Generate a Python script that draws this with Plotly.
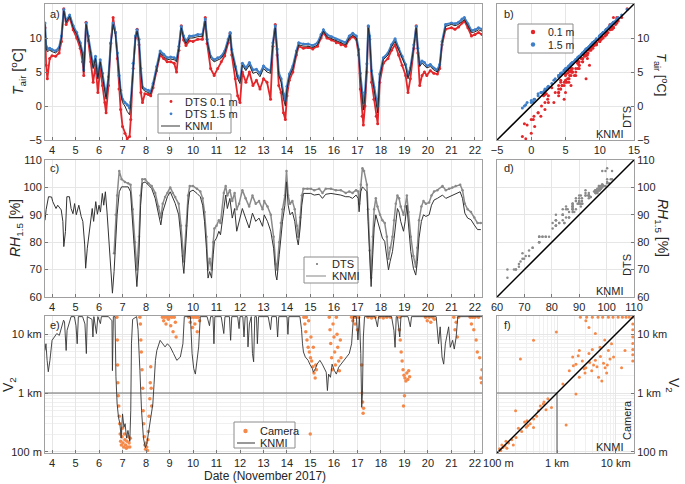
import math
import plotly.graph_objects as go

# ---------------- Panel a / b : air temperature ----------------
t_days = [3.70, 3.75, 3.80, 3.90, 4.00, 4.15, 4.30, 4.40, 4.50, 4.60, 4.75, 4.90, 5.05, 5.20, 5.30, 5.35,
          5.45, 5.55, 5.65, 5.75, 5.85, 5.95, 6.05, 6.15, 6.25, 6.30, 6.40, 6.50, 6.60, 6.70, 6.78, 6.85,
          6.92, 7.00, 7.10, 7.20, 7.30, 7.35, 7.45, 7.55, 7.62, 7.70, 7.78, 7.85, 7.95, 8.10, 8.20, 8.30,
          8.45, 8.60, 8.75, 8.90, 9.05, 9.20, 9.30, 9.40, 9.50, 9.60, 9.70, 9.85, 10.00, 10.20, 10.40, 10.52,
          10.60, 10.75, 10.90, 11.05, 11.20, 11.35, 11.50, 11.58, 11.65, 11.80, 11.90, 12.00, 12.10, 12.25,
          12.40, 12.55, 12.70, 12.85, 13.00, 13.15, 13.30, 13.40, 13.50, 13.58, 13.65, 13.75, 13.85, 13.93,
          14.00, 14.10, 14.25, 14.40, 14.50, 14.70, 14.90, 15.10, 15.30, 15.45, 15.55, 15.70, 15.90, 16.10,
          16.30, 16.50, 16.65, 16.80, 16.95, 17.05, 17.12, 17.20, 17.25, 17.32, 17.40, 17.46, 17.52, 17.60,
          17.70, 17.80, 17.86, 17.95, 18.10, 18.30, 18.45, 18.60, 18.75, 18.90, 19.05, 19.15, 19.25, 19.40,
          19.50, 19.57, 19.65, 19.75, 19.85, 19.95, 20.10, 20.25, 20.40, 20.50, 20.60, 20.75, 21.00, 21.15,
          21.30, 21.45, 21.55, 21.70, 21.85, 22.00, 22.15, 22.30]
t_knmi = [12.0, 8.5, 8.0, 8.2, 8.0, 7.8, 8.3, 10.0, 14.0, 12.3, 13.2, 11.5, 10.5, 9.0, 7.5, 5.0,
          12.0, 10.0, 7.5, 5.5, 7.0, 4.0, 6.5, 4.5, 2.0, 1.0, 4.0, 9.0, 12.0, 10.5, 7.5, 4.0,
          2.0, 0.5, 0.0, -0.8, -1.3, 0.3, 6.0, 10.0, 11.0, 9.5, 5.0, 2.5, 2.2, 2.0, 1.8, 3.0,
          5.5, 7.8, 7.3, 6.8, 6.9, 6.8, 6.5, 8.5, 11.5, 10.0, 9.2, 10.0, 10.0, 10.2, 10.2, 12.5,
          9.5, 7.0, 6.5, 6.8, 7.0, 7.8, 9.5, 10.5, 8.0, 5.5, 4.0, 3.3, 6.0, 5.2,
          6.0, 4.8, 5.0, 4.3, 5.5, 5.0, 4.8, 9.0, 11.5, 8.0, 4.5, 3.5, 1.0, 0.0,
          2.5, 4.3, 5.5, 7.8, 9.0, 8.8, 8.8, 8.6, 9.0, 10.2, 11.0, 10.2, 9.9, 9.5,
          9.2, 9.0, 10.0, 10.4, 10.0, 8.0, 4.3, 1.4, -0.6, 1.5, 5.8, 11.5, 10.0, 4.8,
          2.4, 0.4, -1.0, 4.3, 6.8, 7.5, 8.7, 9.5, 8.2, 7.0, 5.8, 4.0, 5.3, 8.7,
          11.5, 8.2, 5.8, 6.3, 6.0, 5.6, 5.8, 5.3, 5.0, 5.8, 9.2, 11.7, 12.0, 11.8,
          12.0, 12.5, 12.7, 11.8, 10.8, 10.9, 11.2, 11.0]
t_dts01 = [11.5, 6.0, 4.0, 7.0, 7.4, 7.3, 7.8, 9.5, 14.3, 12.0, 13.0, 11.2, 10.0, 8.5, 6.5, 4.5,
           12.3, 9.6, 6.5, 3.5, 6.0, 2.0, 5.5, 3.0, 0.5, -1.0, 3.0, 9.2, 13.0, 10.8, 7.0, 2.5,
           -0.5, -3.0, -4.0, -4.8, -4.5, -2.0, 5.5, 10.0, 11.3, 9.0, 2.0, 0.5, 1.8, 1.7, 1.5, 2.7,
           5.2, 7.5, 7.0, 6.5, 6.5, 6.3, 5.0, 8.2, 11.8, 9.7, 8.9, 9.6, 9.5, 9.8, 9.8, 13.0,
           9.2, 5.5, 4.5, 5.5, 6.5, 7.4, 9.3, 10.7, 7.5, 4.0, 1.5, 0.5, 5.0, 3.5,
           5.0, 3.0, 3.8, 2.5, 4.0, 3.5, 1.0, 8.8, 12.0, 7.5, 3.0, 2.0, -1.0, -2.0,
           1.5, 3.8, 5.0, 7.5, 8.8, 8.5, 8.6, 8.4, 8.8, 10.0, 10.8, 10.0, 9.7, 9.3,
           9.0, 8.8, 9.8, 10.2, 9.8, 7.5, 2.5, -1.5, -2.8, 0.0, 5.0, 11.7, 9.8, 3.5,
           1.0, -1.5, -2.6, 3.5, 6.3, 7.0, 8.2, 9.0, 7.5, 6.0, 4.5, 2.0, 4.0, 8.5,
           11.8, 7.8, 3.0, 4.5, 5.0, 4.5, 5.2, 4.8, 4.7, 5.5, 9.0, 11.3, 11.5, 11.3,
           11.6, 12.2, 12.5, 11.5, 10.3, 10.5, 10.8, 10.5]
t_dts15 = [12.2, 8.8, 8.4, 8.5, 8.3, 8.1, 8.6, 10.3, 14.2, 12.5, 13.4, 11.8, 10.8, 9.3, 7.8, 5.3,
           12.2, 10.3, 7.8, 5.9, 7.3, 4.4, 6.8, 4.8, 2.5, 1.5, 4.3, 9.3, 12.2, 10.8, 7.8, 4.5,
           2.3, 1.0, 0.5, 0.2, -0.3, 0.6, 6.3, 10.3, 11.2, 9.8, 5.5, 2.8, 2.5, 2.3, 2.1, 3.3,
           5.8, 8.1, 7.6, 7.1, 7.2, 7.1, 6.8, 8.8, 11.7, 10.3, 9.5, 10.3, 10.3, 10.5, 10.5, 12.8,
           9.8, 7.3, 6.8, 7.1, 7.3, 8.1, 9.8, 10.8, 8.3, 5.8, 4.4, 3.8, 6.3, 5.6,
           6.4, 5.3, 5.4, 4.8, 5.9, 5.4, 5.2, 9.3, 11.8, 8.4, 4.9, 4.0, 1.8, 0.8,
           2.9, 4.7, 5.9, 8.1, 9.3, 9.1, 9.1, 8.9, 9.3, 10.5, 11.2, 10.5, 10.2, 9.8,
           9.5, 9.3, 10.3, 10.7, 10.3, 8.3, 4.8, 2.0, 0.5, 2.0, 6.2, 11.8, 10.3, 5.2,
           2.8, 1.0, 0.0, 4.7, 7.1, 7.8, 9.0, 9.9, 8.5, 7.3, 6.1, 4.5, 5.6, 9.0,
           11.7, 8.5, 6.2, 6.6, 6.4, 5.9, 6.1, 5.6, 5.3, 6.1, 9.5, 12.0, 12.2, 12.1,
           12.3, 12.8, 13.0, 12.1, 11.1, 11.2, 11.5, 11.3]

# ---------------- Panel c / d : relative humidity ----------------
rh_days = [3.70, 3.75, 3.85, 3.98, 4.03, 4.17, 4.24, 4.39, 4.46, 4.50, 4.57, 4.63, 4.74, 4.81, 4.89, 4.96,
           5.03, 5.14, 5.24, 5.31, 5.39, 5.43, 5.50, 5.57, 5.63, 5.71, 5.77, 5.86, 5.93, 6.00, 6.06, 6.14,
           6.20, 6.27, 6.34, 6.40, 6.46, 6.53, 6.57, 6.64, 6.71, 6.77, 6.86, 6.96, 7.10, 7.24, 7.34, 7.43,
           7.53, 7.61, 7.70, 7.77, 7.84, 7.96, 8.10, 8.24, 8.39, 8.53, 8.63, 8.71, 8.81, 8.91, 9.03, 9.14,
           9.24, 9.39, 9.49, 9.57, 9.61, 9.71, 9.79, 9.86, 10.00, 10.17, 10.31, 10.41, 10.49, 10.57, 10.64,
           10.71, 10.79, 10.86, 10.91, 11.00, 11.10, 11.17, 11.31, 11.39, 11.46, 11.57, 11.67, 11.77, 11.86,
           11.96, 12.10, 12.24, 12.39, 12.53, 12.67, 12.81, 12.96, 13.03, 13.17, 13.31, 13.43, 13.52, 13.57,
           13.67, 13.74, 13.81, 13.91, 13.98, 14.05, 14.13, 14.23, 14.33, 14.42, 14.48, 14.56, 14.63, 14.70,
           14.87, 15.01, 15.16, 15.37, 15.51, 15.65, 15.87, 16.08, 16.29, 16.50, 16.65, 16.79, 16.94, 17.03,
           17.07, 17.14, 17.21, 17.28, 17.40, 17.45, 17.52, 17.58, 17.65, 17.71, 17.78, 17.85, 17.96, 18.06,
           18.16, 18.25, 18.32, 18.39, 18.49, 18.56, 18.63, 18.70, 18.77, 18.84, 18.96, 19.03, 19.10, 19.17,
           19.27, 19.38, 19.48, 19.55, 19.62, 19.72, 19.81, 19.91, 20.05, 20.15, 20.26, 20.40, 20.62, 20.76,
           20.90, 21.04, 21.18, 21.37, 21.47, 21.57, 21.69, 21.83, 21.97, 22.11, 22.25]
rh_knmi = [88.0, 92.0, 96.6, 96.5, 94.8, 92.3, 93.5, 91.8, 87.6, 78.4, 83.9, 96.6, 96.6, 92.3, 90.4, 94.1,
           90.0, 93.5, 89.4, 87.6, 79.0, 70.5, 77.8, 82.7, 87.6, 92.3, 87.6, 94.8, 90.2, 93.5, 91.0, 97.8,
           93.5, 98.4, 91.0, 84.0, 75.4, 66.9, 61.4, 69.3, 81.5, 90.0, 98.4, 100.2, 100.2, 100.2, 98.4, 87.6,
           75.4, 63.8, 75.4, 93.5, 101.5, 102.0, 100.9, 99.6, 96.0, 90.6, 86.3, 91.1, 94.2, 96.6, 98.4, 96.0,
           94.2, 90.0, 81.5, 71.7, 68.6, 81.5, 93.5, 98.4, 99.0, 97.8, 96.6, 93.5, 87.6, 77.8, 66.9,
           69.3, 66.9, 75.4, 80.3, 81.5, 84.0, 82.7, 93.5, 97.2, 92.3, 96.0, 88.8, 92.3, 84.0,
           87.6, 92.3, 88.8, 85.2, 90.6, 87.6, 88.8, 85.8, 90.0, 87.6, 84.0, 77.8, 68.0, 66.2,
           75.4, 82.7, 87.6, 93.5, 102.0, 93.5, 90.0, 91.0, 87.6, 81.5, 79.0, 85.2, 93.5, 97.8,
           97.8, 97.8, 97.2, 97.5, 96.0, 97.5, 97.8, 97.5, 97.2, 96.6, 96.6, 96.0, 97.2, 96.0,
           91.1, 98.4, 100.2, 99.6, 98.4, 87.6, 71.7, 63.8, 75.4, 85.2, 90.0, 87.6, 84.0, 81.5,
           80.3, 75.4, 69.9, 73.0, 76.6, 81.5, 87.6, 92.3, 91.0, 87.6, 84.0, 87.6, 93.5, 86.3,
           76.6, 70.5, 68.0, 73.0, 81.5, 87.6, 90.0, 89.4, 90.0, 93.5, 95.4, 96.0, 97.2, 96.0,
           96.6, 97.2, 97.8, 98.4, 96.0, 90.6, 88.8, 88.2, 86.3, 84.6, 84.6]
rh_dts = [None] * 36 + [
           None, None, None, 76.0, 90.0, 97.0, 106.0, 103.0, 102.0, 101.5, 101.0, 92.0,
           80.0, 70.0, 82.0, 97.0, 103.0, 103.0, 101.5, 100.5, 98.0, 93.0, 89.0, 94.0, 96.5, 98.0, 100.0, 98.0,
           96.5, 94.0, 86.0, 75.0, 73.0, 86.0, 97.0, 100.5, 100.5, 99.5, 98.5, 96.0, 91.0, 82.0, 70.0,
           74.0, 70.0, 80.0, 85.0, 86.0, 88.0, 87.0, 98.0, 100.5, 97.0, 99.0, 95.0, 98.0, 92.0,
           94.0, 99.0, 96.0, 93.0, 97.0, 94.0, 95.0, 92.0, 95.0, 93.0, 90.0, 82.0, 72.0, 70.0,
           80.0, 87.0, 92.0, 97.0, 106.0, 97.0, 94.0, 95.0, 92.0, 86.0, 82.0, 89.0, 97.0, 99.5,
           99.5, 99.5, 99.0, 99.5, 98.0, 99.5, 99.5, 99.0, 99.0, 98.0, 98.5, 98.0, 99.0, 98.5,
           94.0, 101.0, 107.0, 106.0, 101.0, 92.0, 77.0, 67.0, 82.0, 92.0, 96.0, 93.0, 90.0, 88.0,
           87.0, 82.0, 74.0, 78.0, 82.0, 88.0, 94.0, 97.0, 96.0, 93.0, 90.0, 93.0, 97.0, 91.0,
           82.0, 75.0, 71.0, 78.0, 88.0, 93.0, 95.0, 94.0, 94.5, 97.0, 98.5, 99.0, 100.5, 99.0,
           99.5, 100.0, 100.5, 101.0, 99.0, 94.0, 92.0, 91.0, 89.0, 87.0, 87.0]

# ---------------- Panel e / f : visibility ----------------
vis_days = [3.70, 3.74, 3.79, 3.84, 3.91, 4.00, 4.10, 4.20, 4.31, 4.39, 4.49, 4.53, 4.60, 4.64, 4.71, 4.81,
            4.95, 5.02, 5.07, 5.12, 5.30, 5.40, 5.46, 5.50, 5.70, 5.74, 5.78, 5.89, 5.95, 6.06, 6.10, 6.40,
            6.55, 6.57, 6.61, 6.68, 6.72, 6.77, 6.83, 6.89, 6.94, 7.00, 7.06, 7.11, 7.17, 7.23, 7.31, 7.35,
            7.38, 7.43, 7.60, 7.66, 7.74, 7.81, 7.89, 7.97, 8.03, 8.10, 8.17, 8.24, 8.29, 8.34, 8.40, 8.46,
            8.60, 8.71, 8.81, 8.91, 9.03, 9.17, 9.31, 9.46, 9.57, 9.63, 9.89, 9.96, 10.03, 10.10, 10.17, 10.24,
            10.31, 10.60, 10.70, 10.75, 10.85, 10.89, 10.93, 11.20, 11.31, 11.36, 11.55, 11.60, 11.65, 11.90,
            11.96, 12.00, 12.12, 12.17, 12.22, 12.30, 12.34, 12.40, 12.48, 12.53, 12.58, 12.63, 12.70, 12.74,
            12.79, 13.20, 13.30, 13.35, 13.55, 13.60, 13.65, 14.00, 14.04, 14.08, 14.55, 14.62, 14.66, 14.70,
            14.78, 14.90, 14.97, 15.08, 15.12, 15.21, 15.28, 15.40, 15.50, 15.60, 15.67, 15.72, 15.77, 15.85,
            15.92, 16.02, 16.10, 16.20, 16.30, 16.45, 16.55, 16.65, 16.75, 16.83, 16.95, 17.02, 17.08, 17.14,
            17.18, 17.21, 17.25, 17.30, 17.75, 17.85, 17.90, 18.45, 18.55, 18.60, 18.65, 18.70, 18.80, 18.85,
            19.15, 19.25, 19.30, 20.35, 20.45, 20.52, 20.60, 20.67, 20.74, 20.80, 20.88, 20.95, 21.05, 21.12,
            21.20, 21.27, 22.30]
vis_knmi = [5300, 6900, 3600, 2300, 3600, 7900, 9000, 10300, 9600, 12500, 17400, 16300, 5300, 11700, 15200, 20000,
            20000, 14000, 6900, 20000, 20000, 15000, 4700, 20000, 18000, 9000, 20000, 10300, 20000, 15200, 20000, 20000,
            17000, 2400, 20000, 20000, 1900, 650, 380, 300, 170, 440, 260, 300, 170, 230, 150, 500,
            6900, 18000, 20000, 12000, 2400, 500, 170, 117, 133, 200, 300, 500, 650, 1400, 3600, 5300,
            7900, 6900, 6100, 6900, 6100, 4700, 3600, 4100, 6900, 20000, 20000, 4700, 2600, 2100, 3600, 6100,
            20000, 20000, 14000, 20000, 20000, 6900, 20000, 20000, 10300, 20000, 20000, 7900, 20000, 20000,
            12500, 20000, 20000, 9000, 20000, 20000, 6100, 15000, 20000, 4700, 3400, 20000, 20000, 6900,
            20000, 20000, 12000, 20000, 20000, 9000, 20000, 20000, 10000, 20000, 20000, 12000, 6900, 5000,
            4100, 3600, 3100, 2600, 2260, 2600, 3100, 3600, 3100, 2600, 2260, 1100, 2100, 1850,
            3100, 2400, 2100, 2750, 3100, 3600, 4100, 4700, 6900, 20000, 20000, 8000, 20000, 4700,
            570, 960, 9000, 20000, 20000, 13400, 20000, 20000, 11700, 6000, 20000, 20000, 9000, 20000,
            20000, 13400, 20000, 20000, 6900, 13400, 4100, 3100, 6900, 9000, 13400, 6000, 7900, 5600,
            9000, 20000, 20000]

cam_days = [6.76, 6.78, 6.79, 6.80, 6.82, 6.84, 6.86, 6.88, 6.90, 6.92, 6.95, 6.98, 7.00, 7.02, 7.05, 7.08,
            7.10, 7.13, 7.16, 7.19, 7.22, 7.25, 7.28, 7.31, 7.33,
            7.74, 7.76, 7.78, 7.80, 7.83, 7.86, 7.88, 7.90, 7.93, 7.95, 7.98, 8.00, 8.03, 8.06, 8.08, 8.10,
            8.13, 8.16, 8.18, 8.20, 8.22, 8.24,
            8.70, 8.75, 8.80, 8.85, 8.90, 8.95, 9.00, 9.05, 9.10, 9.15, 9.20, 9.25, 9.28,
            9.82, 9.88, 9.93, 9.98, 10.03, 10.08, 10.13, 10.18, 10.22, 10.28,
            14.72, 14.76, 14.80, 14.82, 14.85, 14.90, 14.92, 14.95, 14.99, 15.00, 15.02, 15.05, 15.10, 15.12,
            15.15, 15.20, 15.22, 15.25,
            15.80, 15.83, 15.86, 15.90, 15.93, 15.96, 16.00, 16.03, 16.06, 16.10, 16.13, 16.16, 16.20, 16.23,
            16.27, 16.30,
            16.75, 16.80, 16.85, 16.90, 16.95, 17.00, 17.05, 17.18, 17.20, 17.22, 17.24, 17.26,
            17.45, 17.60, 17.75, 17.95, 18.10, 18.25, 18.40,
            18.78, 18.80, 18.82, 18.86, 18.90, 18.94, 18.96, 18.98, 19.00, 19.02, 19.06, 19.10, 19.14, 19.18,
            19.22,
            19.90, 19.97, 20.05, 20.12, 20.20, 20.27,
            21.10, 21.15, 21.20, 21.25, 21.30,
            21.80, 21.85, 21.90, 21.95, 22.00, 22.05, 22.10, 22.15, 22.20, 22.25, 22.28, 22.30]
cam_vis = [19500, 8000, 3000, 1500, 900, 600, 400, 300, 200, 150, 130, 180, 250, 140, 120, 200,
           160, 130, 115, 150, 120, 180, 140, 120, 170,
           19500, 15000, 8000, 5000, 2500, 1200, 500, 300, 180, 130, 110, 140, 120, 105, 160, 220,
           400, 800, 1500, 2800, 1200, 600,
           19500, 17000, 19500, 15000, 19500, 18000, 19500, 14000, 19500, 11000, 19500, 16000, 9000,
           19500, 16000, 19500, 13000, 19500, 15000, 19500, 11000, 19500, 17000,
           19500, 15000, 11000, 19500, 8000, 6000, 17000, 5000, 200, 4000, 9000, 3500, 2800, 6000,
           2200, 1800, 3000, 2500,
           19500, 12000, 7000, 4000, 2500, 15000, 9000, 5000, 3000, 19500, 10000, 6000, 3500, 2400,
           8000, 4000,
           19500, 17000, 19500, 15000, 19500, 12000, 19500, 3000, 1000, 700, 450, 550,
           19500, 19000, 19500, 19500, 19000, 19500, 19500,
           12000, 19500, 8000, 5000, 3500, 2500, 600, 2000, 900, 1800, 1600, 2200, 1700, 2400,
           1900,
           19500, 17000, 19500, 16000, 19500, 18000,
           19500, 12000, 16000, 9000, 19500,
           19500, 15000, 19500, 12000, 19500, 8000, 5000, 19500, 4000, 1800, 1500, 2500]

# panel f: paired KNMI / camera visibility (m)
f_knmi = [110, 120, 130, 105, 150, 170, 135, 200, 250, 300, 350, 400, 220, 180, 280, 320, 115, 140,
          197, 308, 398, 483, 584, 805, 1430, 238, 398, 975, 450, 520, 650, 700, 600,
          1620, 2100, 2400, 3100, 3500, 3900, 4500, 5100, 5800, 6600, 7500, 8500, 9200, 3500, 3100, 4500,
          2400, 1850, 1260, 2100, 14400, 12600, 2700, 3000, 4200, 5500, 6200, 7000, 8000, 4800, 3600, 2900,
          5400, 6500, 7200, 2300, 1900, 4000,
          2500, 3200, 4000, 5000, 6000, 7500, 9000, 11000, 13000, 15000, 17000, 19500,
          19500, 19500, 19500, 19500, 19500, 19500, 19500]
f_cam = [105, 118, 125, 112, 140, 160, 150, 175, 220, 260, 300, 360, 250, 130, 320, 280, 130, 115,
         497, 336, 258, 497, 650, 568, 286, 3800, 7900, 10900, 400, 600, 520, 800, 700,
         2400, 3100, 1850, 2700, 4700, 2400, 3600, 1850, 1600, 2700, 5300, 6900, 4100, 13000, 17000, 10300,
         5300, 4100, 1430, 960, 5300, 2700, 3500, 2200, 3000, 4200, 3200, 2200, 3800, 2800, 3300, 2600,
         6000, 8000, 3000, 4300, 2900, 5500,
         19500, 19500, 19500, 19500, 19500, 19500, 19500, 19500, 19500, 19500, 19500, 19500,
         3500, 4500, 5500, 7000, 9000, 12000, 15000]

day_ticks = list(range(4, 23))
day_range = [3.7, 22.3]
temp_ticks = [-5, 0, 5, 10, 15]
temp_range = [-5, 15]
rh_ticks = [60, 70, 80, 90, 100, 110]
rh_range = [60, 110]
vis_ticks = [100, 1000, 10000]
vis_ticktext = ["100 m", "1 km", "10 km"]
vis_range_m = [95, 20500]
vis_threshold = 1000

RED = "#e3262a"
BLUE = "#3f7fc8"
ORANGE = "#f5894a"
DGRAY = "#8a8a8a"
KCOL = "#262626"
FONT = "Liberation Sans, Arial, Helvetica, sans-serif"
TXT = "#262626"

fig = go.Figure()

# ---- panel a ----
fig.add_trace(go.Scatter(x=t_days, y=t_dts01, mode="lines+markers", line=dict(color=RED, width=1.8),
                         marker=dict(color=RED, size=3), xaxis="x", yaxis="y"))
fig.add_trace(go.Scatter(x=t_days, y=t_dts15, mode="lines+markers", line=dict(color=BLUE, width=2.0),
                         marker=dict(color=BLUE, size=3), xaxis="x", yaxis="y"))
fig.add_trace(go.Scatter(x=t_days, y=t_knmi, mode="lines", line=dict(color=KCOL, width=1),
                         xaxis="x", yaxis="y"))

# ---- panel b ----
fig.add_trace(go.Scatter(x=t_knmi, y=t_dts01, mode="markers", marker=dict(color=RED, size=3),
                         xaxis="x2", yaxis="y2"))
fig.add_trace(go.Scatter(x=t_knmi, y=t_dts15, mode="markers", marker=dict(color=BLUE, size=3),
                         xaxis="x2", yaxis="y2"))
fig.add_trace(go.Scatter(x=temp_range, y=temp_range, mode="lines", line=dict(color="black", width=1.5),
                         xaxis="x2", yaxis="y2"))

# ---- panel c ----
fig.add_trace(go.Scatter(x=rh_days, y=rh_dts, mode="lines+markers", line=dict(color=DGRAY, width=1.5),
                         marker=dict(color=DGRAY, size=2.5), xaxis="x3", yaxis="y3", connectgaps=False))
fig.add_trace(go.Scatter(x=rh_days, y=rh_knmi, mode="lines", line=dict(color="#333333", width=1),
                         xaxis="x3", yaxis="y3"))

# ---- panel d ----
fig.add_trace(go.Scatter(x=rh_knmi, y=rh_dts, mode="markers", marker=dict(color=DGRAY, size=2.5),
                         xaxis="x4", yaxis="y4"))
fig.add_trace(go.Scatter(x=rh_range, y=rh_range, mode="lines", line=dict(color="black", width=1.5),
                         xaxis="x4", yaxis="y4"))

# ---- panel e ----
fig.add_trace(go.Scatter(x=day_range, y=[vis_threshold, vis_threshold], mode="lines",
                         line=dict(color="#6e6e6e", width=1.2), xaxis="x5", yaxis="y5"))
fig.add_trace(go.Scatter(x=cam_days, y=cam_vis, mode="markers", marker=dict(color=ORANGE, size=3.5),
                         xaxis="x5", yaxis="y5"))
fig.add_trace(go.Scatter(x=vis_days, y=vis_knmi, mode="lines", line=dict(color="#333333", width=0.9),
                         xaxis="x5", yaxis="y5"))

# ---- panel f ----
fig.add_trace(go.Scatter(x=[vis_threshold, vis_threshold], y=[vis_range_m[0], vis_threshold], mode="lines",
                         line=dict(color="#6e6e6e", width=1.2), xaxis="x6", yaxis="y6"))
fig.add_trace(go.Scatter(x=[vis_range_m[0], vis_threshold], y=[vis_threshold, vis_threshold], mode="lines",
                         line=dict(color="#6e6e6e", width=1.2), xaxis="x6", yaxis="y6"))
fig.add_trace(go.Scatter(x=f_knmi, y=f_cam, mode="markers", marker=dict(color=ORANGE, size=3),
                         xaxis="x6", yaxis="y6"))
fig.add_trace(go.Scatter(x=vis_range_m, y=vis_range_m, mode="lines", line=dict(color="black", width=1.5),
                         xaxis="x6", yaxis="y6"))

W, H = 685, 484


def px_x(x):
    return x / W


def px_y(y):
    return 1 - y / H


XL = [px_x(45), px_x(482)]
XR = [px_x(497), px_x(634)]
YA = [px_y(140), px_y(4)]
YC = [px_y(297), px_y(160)]
YE = [px_y(453), px_y(316)]

GRID = "#e6e6e6"
LINE = "#a0a0a0"
common = dict(showline=True, mirror=True, linecolor=LINE, linewidth=1, gridcolor=GRID, zeroline=False,
              automargin=False, ticks="inside", ticklen=3, tickcolor="#777777",
              tickfont=dict(size=11, color=TXT, family=FONT))

lv = [math.log10(vis_range_m[0]), math.log10(vis_range_m[1])]
minor_vals = [k * 10 ** d for d in (2, 3, 4) for k in range(2, 10) if k * 10 ** d < vis_range_m[1]]
minor_log = dict(tickmode="array", tickvals=minor_vals, showgrid=True, gridcolor="#f0f0f0", ticks="")

fig.update_layout(
    template="none", showlegend=False,
    width=W, height=H, margin=dict(l=0, r=0, t=0, b=0),
    paper_bgcolor="white", plot_bgcolor="white",
    font=dict(family=FONT, color=TXT, size=11),
    xaxis=dict(domain=XL, range=day_range, tickvals=day_ticks, anchor="y", **common),
    yaxis=dict(domain=YA, range=temp_range, tickvals=temp_ticks, anchor="x", **common),
    xaxis2=dict(domain=XR, range=temp_range, tickvals=temp_ticks, anchor="y2", **common),
    yaxis2=dict(domain=YA, range=temp_range, tickvals=temp_ticks, anchor="x2", side="right", **common),
    xaxis3=dict(domain=XL, range=day_range, tickvals=day_ticks, anchor="y3", **common),
    yaxis3=dict(domain=YC, range=rh_range, tickvals=rh_ticks, anchor="x3", **common),
    xaxis4=dict(domain=XR, range=rh_range, tickvals=rh_ticks, anchor="y4", **common),
    yaxis4=dict(domain=YC, range=rh_range, tickvals=rh_ticks, anchor="x4", side="right", **common),
    xaxis5=dict(domain=XL, range=day_range, tickvals=day_ticks, anchor="y5", **common),
    yaxis5=dict(domain=YE, type="log", range=lv, tickvals=vis_ticks, ticktext=vis_ticktext,
                anchor="x5", minor=minor_log, **common),
    xaxis6=dict(domain=XR, type="log", range=lv, tickvals=vis_ticks, ticktext=vis_ticktext,
                anchor="y6", minor=minor_log, **common),
    yaxis6=dict(domain=YE, type="log", range=lv, tickvals=vis_ticks, ticktext=vis_ticktext,
                anchor="x6", side="right", minor=minor_log, **common),
)

shapes = []
ann = []


def add_text(text, x, y, size=11, angle=0, xanchor="center"):
    ann.append(dict(text=text, x=px_x(x), y=px_y(y), xref="paper", yref="paper", showarrow=False,
                    textangle=angle, xanchor=xanchor, yanchor="middle", font=dict(size=size, color=TXT, family=FONT)))


# ---- legends (drawn as boxes, symbols and text) ----
def legend_box(x0, y0, x1, y1):
    shapes.append(dict(type="rect", xref="paper", yref="paper", x0=px_x(x0), x1=px_x(x1), y0=px_y(y1), y1=px_y(y0),
                       fillcolor="white", line=dict(color="#8c8c8c", width=1), layer="above"))


def legend_dot(cx, cy, color, r=1.8):
    shapes.append(dict(type="circle", xref="paper", yref="paper", x0=px_x(cx - r), x1=px_x(cx + r),
                       y0=px_y(cy + r), y1=px_y(cy - r), fillcolor=color, line=dict(color=color, width=0),
                       layer="above"))


def legend_line(x0, x1, cy, color, width=1.5):
    shapes.append(dict(type="line", xref="paper", yref="paper", x0=px_x(x0), x1=px_x(x1), y0=px_y(cy), y1=px_y(cy),
                       line=dict(color=color, width=width), layer="above"))


# legend a
legend_box(158, 94, 231, 133)
legend_dot(171, 101.5, RED, 1.4)
legend_dot(171, 113.8, BLUE, 1.4)
legend_line(161, 180, 126, "#9a9a9a", 2)
add_text("DTS 0.1 m", 183, 101.5, xanchor="left")
add_text("DTS 1.5 m", 183, 113.8, xanchor="left")
add_text("KNMI", 183, 126, xanchor="left")
# legend b
legend_box(518, 24, 573, 53)
legend_dot(533, 32, RED, 2.2)
legend_dot(533, 44.5, BLUE, 2.2)
add_text("0.1 m", 546, 32, size=10.5, xanchor="left")
add_text("1.5 m", 546, 44.5, size=10.5, xanchor="left")
# legend c
legend_box(304, 257, 358, 283)
legend_dot(317, 264, "#6e6e6e", 1.0)
legend_line(306, 326, 276, "#9a9a9a", 1.2)
add_text("DTS", 330, 264, xanchor="left")
add_text("KNMI", 330, 276, xanchor="left")
# legend e
legend_box(234, 422, 295, 448)
legend_dot(245.5, 431, ORANGE, 2.2)
legend_line(237, 255, 443, "#555555", 1.2)
add_text("Camera", 258, 431, xanchor="left")
add_text("KNMI", 258, 443, xanchor="left")

# panel labels
for lab, x, y in [("a)", 48, 14), ("b)", 502, 14), ("c)", 48, 168), ("d)", 502, 168), ("e)", 48, 325),
                  ("f)", 502, 325)]:
    add_text(lab, x, y, xanchor="left")
# scatter axis names inside panels
for y in (134, 291, 447):
    add_text("KNMI", 610, y)
add_text("DTS", 627, 117, angle=-90)
add_text("DTS", 627, 265, angle=-90)
add_text("Camera", 627, 420, angle=-90)
# axis titles
add_text("<i>T</i><sub>air</sub> [<sup>o</sup>C]", 18, 72, size=14, angle=-90)
add_text("<i>RH</i><sub>1.5</sub> [%]", 16, 228, size=14, angle=-90)
add_text("V<sub>2</sub>", 9, 385, size=14, angle=-90)
add_text("Date (November 2017)", 265, 476, size=12)
add_text("<i>T</i><sub>air</sub> [<sup>o</sup>C]", 661, 74, size=13, angle=90)
add_text("<i>RH</i><sub>1.5</sub> [%]", 662, 228, size=14, angle=90)
add_text("V<sub>2</sub>", 673, 385, size=14, angle=90)

fig.update_layout(shapes=shapes, annotations=ann)

fig.write_html("out.html", config=dict(displayModeBar=False),
               post_script="document.body.style.margin='0';document.body.style.padding='0';"
                           "document.documentElement.style.overflow='hidden';")
